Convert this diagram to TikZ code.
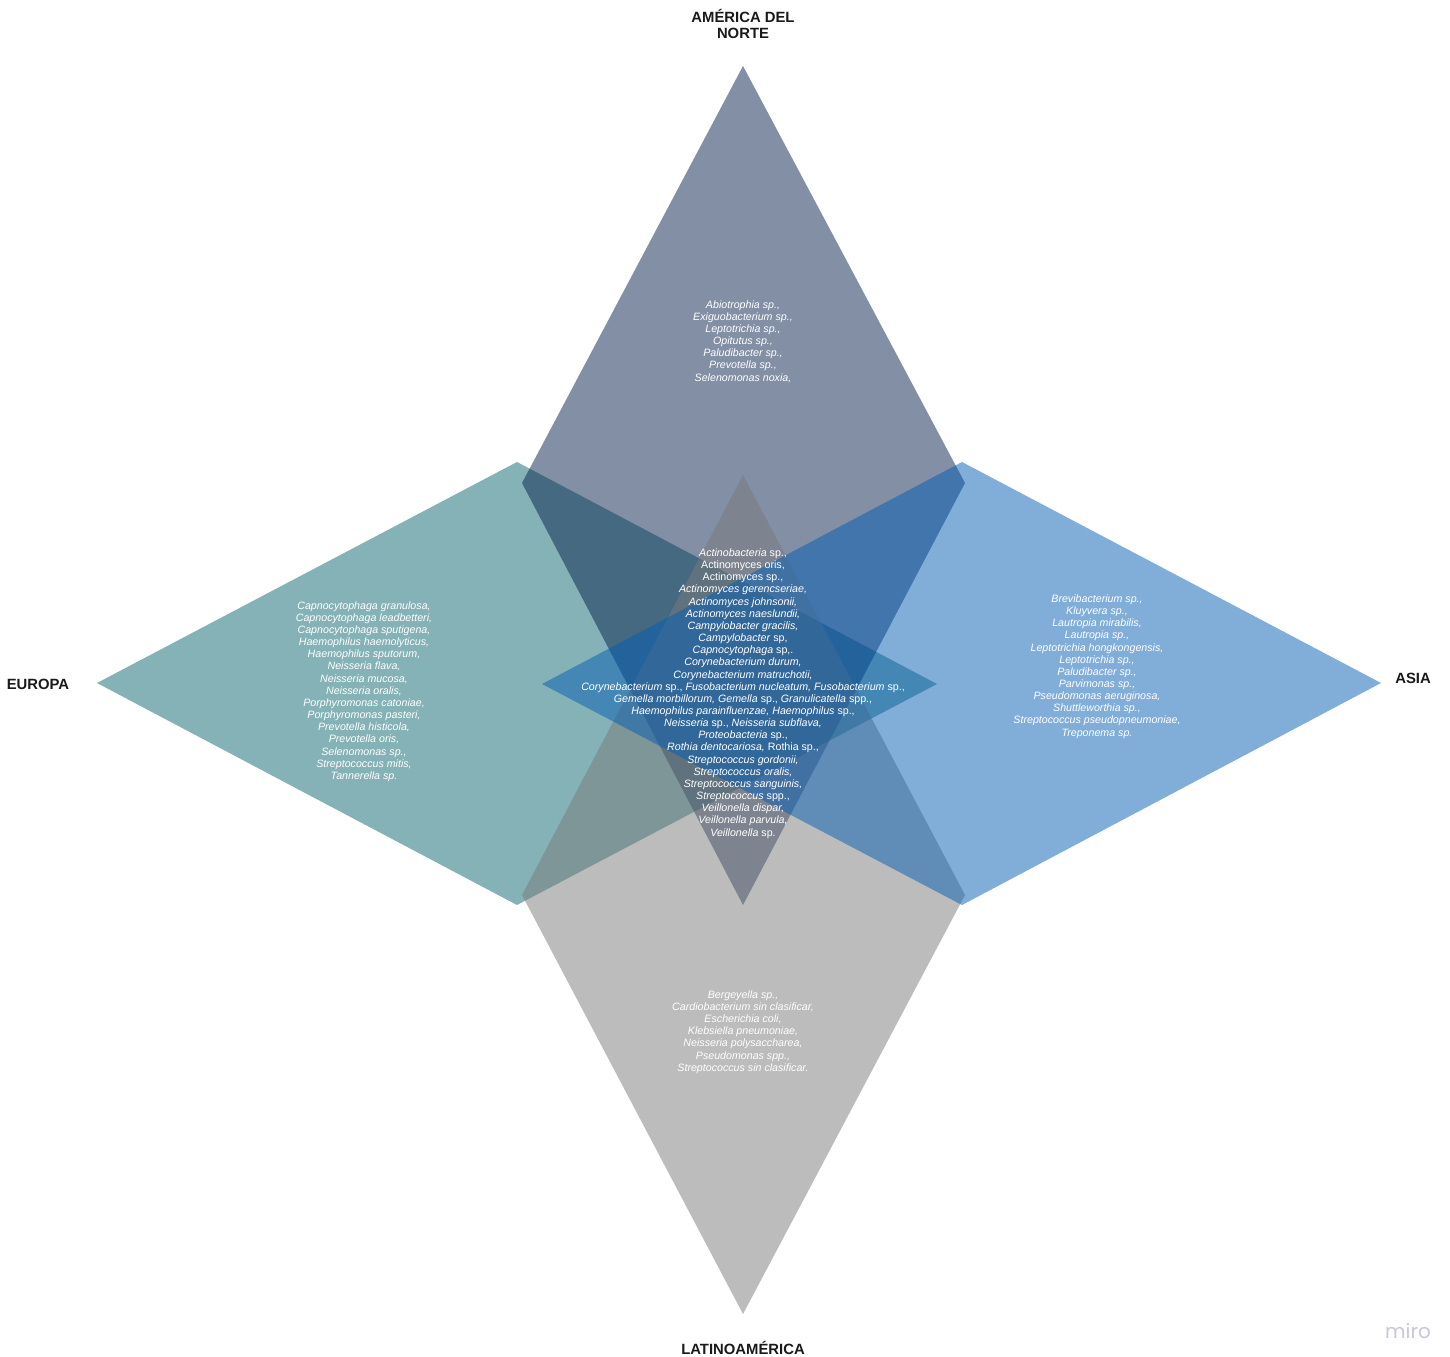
\documentclass[tikz,border=0pt]{standalone}
\usepackage{fontspec}
\setmainfont{Liberation Sans}
\newfontfamily\mirofont{Poppins}
\definecolor{cTop}{RGB}{7,33,77}
\definecolor{cLeft}{RGB}{13,103,111}
\definecolor{cBot}{RGB}{123,123,123}
\definecolor{cRight}{RGB}{5,93,181}
\definecolor{labelInk}{RGB}{26,26,26}
\definecolor{miroGray}{RGB}{200,200,214}
\tikzset{
  region/.style={fill opacity=0.5, draw=none},
  species/.style={text=white, align=center, inner sep=0pt,
    font=\fontsize{10.7}{12.2}\selectfont\itshape},
  continent/.style={text=labelInk, align=center, inner sep=0pt,
    font=\fontsize{14.9}{16.5}\selectfont\bfseries},
}
\newcommand{\up}[1]{\textup{#1}}
\begin{document}
\begin{tikzpicture}[x=1bp,y=-1bp]
\useasboundingbox[fill=white] (0,0) rectangle (1450,1357);
% vertices
\coordinate (T1) at (743,66);   \coordinate (T2) at (522,483);
\coordinate (T3) at (743,905);  \coordinate (T4) at (965,483);
\coordinate (L1) at (97,683);   \coordinate (L2) at (517,462);
\coordinate (L3) at (937,684);  \coordinate (L4) at (517,905);
\coordinate (B1) at (743,475);  \coordinate (B2) at (522,895);
\coordinate (B3) at (743,1314); \coordinate (B4) at (965,895);
\coordinate (R1) at (542,684);  \coordinate (R2) at (962,462);
\coordinate (R3) at (1381,683); \coordinate (R4) at (962,905);
% diamonds (drawing order: left, top, bottom, right)
\fill[region, fill=cLeft]  (L1) -- (L2) -- (L3) -- (L4) -- cycle;
\fill[region, fill=cTop]   (T1) -- (T2) -- (T3) -- (T4) -- cycle;
\fill[region, fill=cBot]   (B1) -- (B2) -- (B3) -- (B4) -- cycle;
\fill[region, fill=cRight] (R1) -- (R2) -- (R3) -- (R4) -- cycle;
% species lists
\node[species] (na) at (743,341.5) {Abiotrophia sp.,\\Exiguobacterium sp.,\\Leptotrichia sp.,\\Opitutus sp.,\\Paludibacter sp.,\\Prevotella sp.,\\Selenomonas noxia,};
\node[species] (eu) at (364,691.5) {Capnocytophaga granulosa,\\Capnocytophaga leadbetteri,\\Capnocytophaga sputigena,\\Haemophilus haemolyticus,\\Haemophilus sputorum,\\Neisseria flava,\\Neisseria mucosa,\\Neisseria oralis,\\Porphyromonas catoniae,\\Porphyromonas pasteri,\\Prevotella histicola,\\Prevotella oris,\\Selenomonas sp.,\\Streptococcus mitis,\\Tannerella sp.};
\node[species] (as) at (1097,666.5) {Brevibacterium sp.,\\Kluyvera sp.,\\Lautropia mirabilis,\\Lautropia sp.,\\Leptotrichia hongkongensis,\\Leptotrichia sp.,\\Paludibacter sp.,\\Parvimonas sp.,\\Pseudomonas aeruginosa,\\Shuttleworthia sp.,\\Streptococcus pseudopneumoniae,\\Treponema sp.};
\node[species] (la) at (743,1032) {Bergeyella sp.,\\Cardiobacterium sin clasificar,\\Escherichia coli,\\Klebsiella pneumoniae,\\Neisseria polysaccharea,\\Pseudomonas spp.,\\Streptococcus sin clasificar.};
\node[species] (core) at (743,693.5) {Actinobacteria \up{sp.,}\\\up{Actinomyces oris,}\\\up{Actinomyces sp.,}\\Actinomyces gerencseriae,\\Actinomyces johnsonii,\\Actinomyces naeslundii,\\Campylobacter gracilis,\\Campylobacter \up{sp,}\\Capnocytophaga \up{sp,.}\\Corynebacterium durum,\\Corynebacterium matruchotii,\\Corynebacterium \up{sp.,} Fusobacterium nucleatum, Fusobacterium \up{sp.,}\\Gemella morbillorum, Gemella \up{sp.,} Granulicatella \up{spp.,}\\Haemophilus parainfluenzae, Haemophilus \up{sp.,}\\Neisseria \up{sp.,} Neisseria subflava,\\Proteobacteria \up{sp.,}\\Rothia dentocariosa, \up{Rothia sp.,}\\Streptococcus gordonii,\\Streptococcus oralis,\\Streptococcus sanguinis,\\Streptococcus \up{spp.,}\\Veillonella dispar,\\Veillonella parvula,\\Veillonella \up{sp.}};
% continent labels
\node[continent] (lblNA) at (743,24) {AMÉRICA DEL\\NORTE};
\node[continent] (lblEU) at (38,684) {EUROPA};
\node[continent] (lblAS) at (1413,678) {ASIA};
\node[continent] (lblLA) at (743,1348) {LATINOAMÉRICA};
% watermark
\node[text=miroGray, inner sep=0pt, font=\mirofont\fontsize{20}{22}\selectfont] (miro) at (1408,1331) {miro};
\end{tikzpicture}
\end{document}
